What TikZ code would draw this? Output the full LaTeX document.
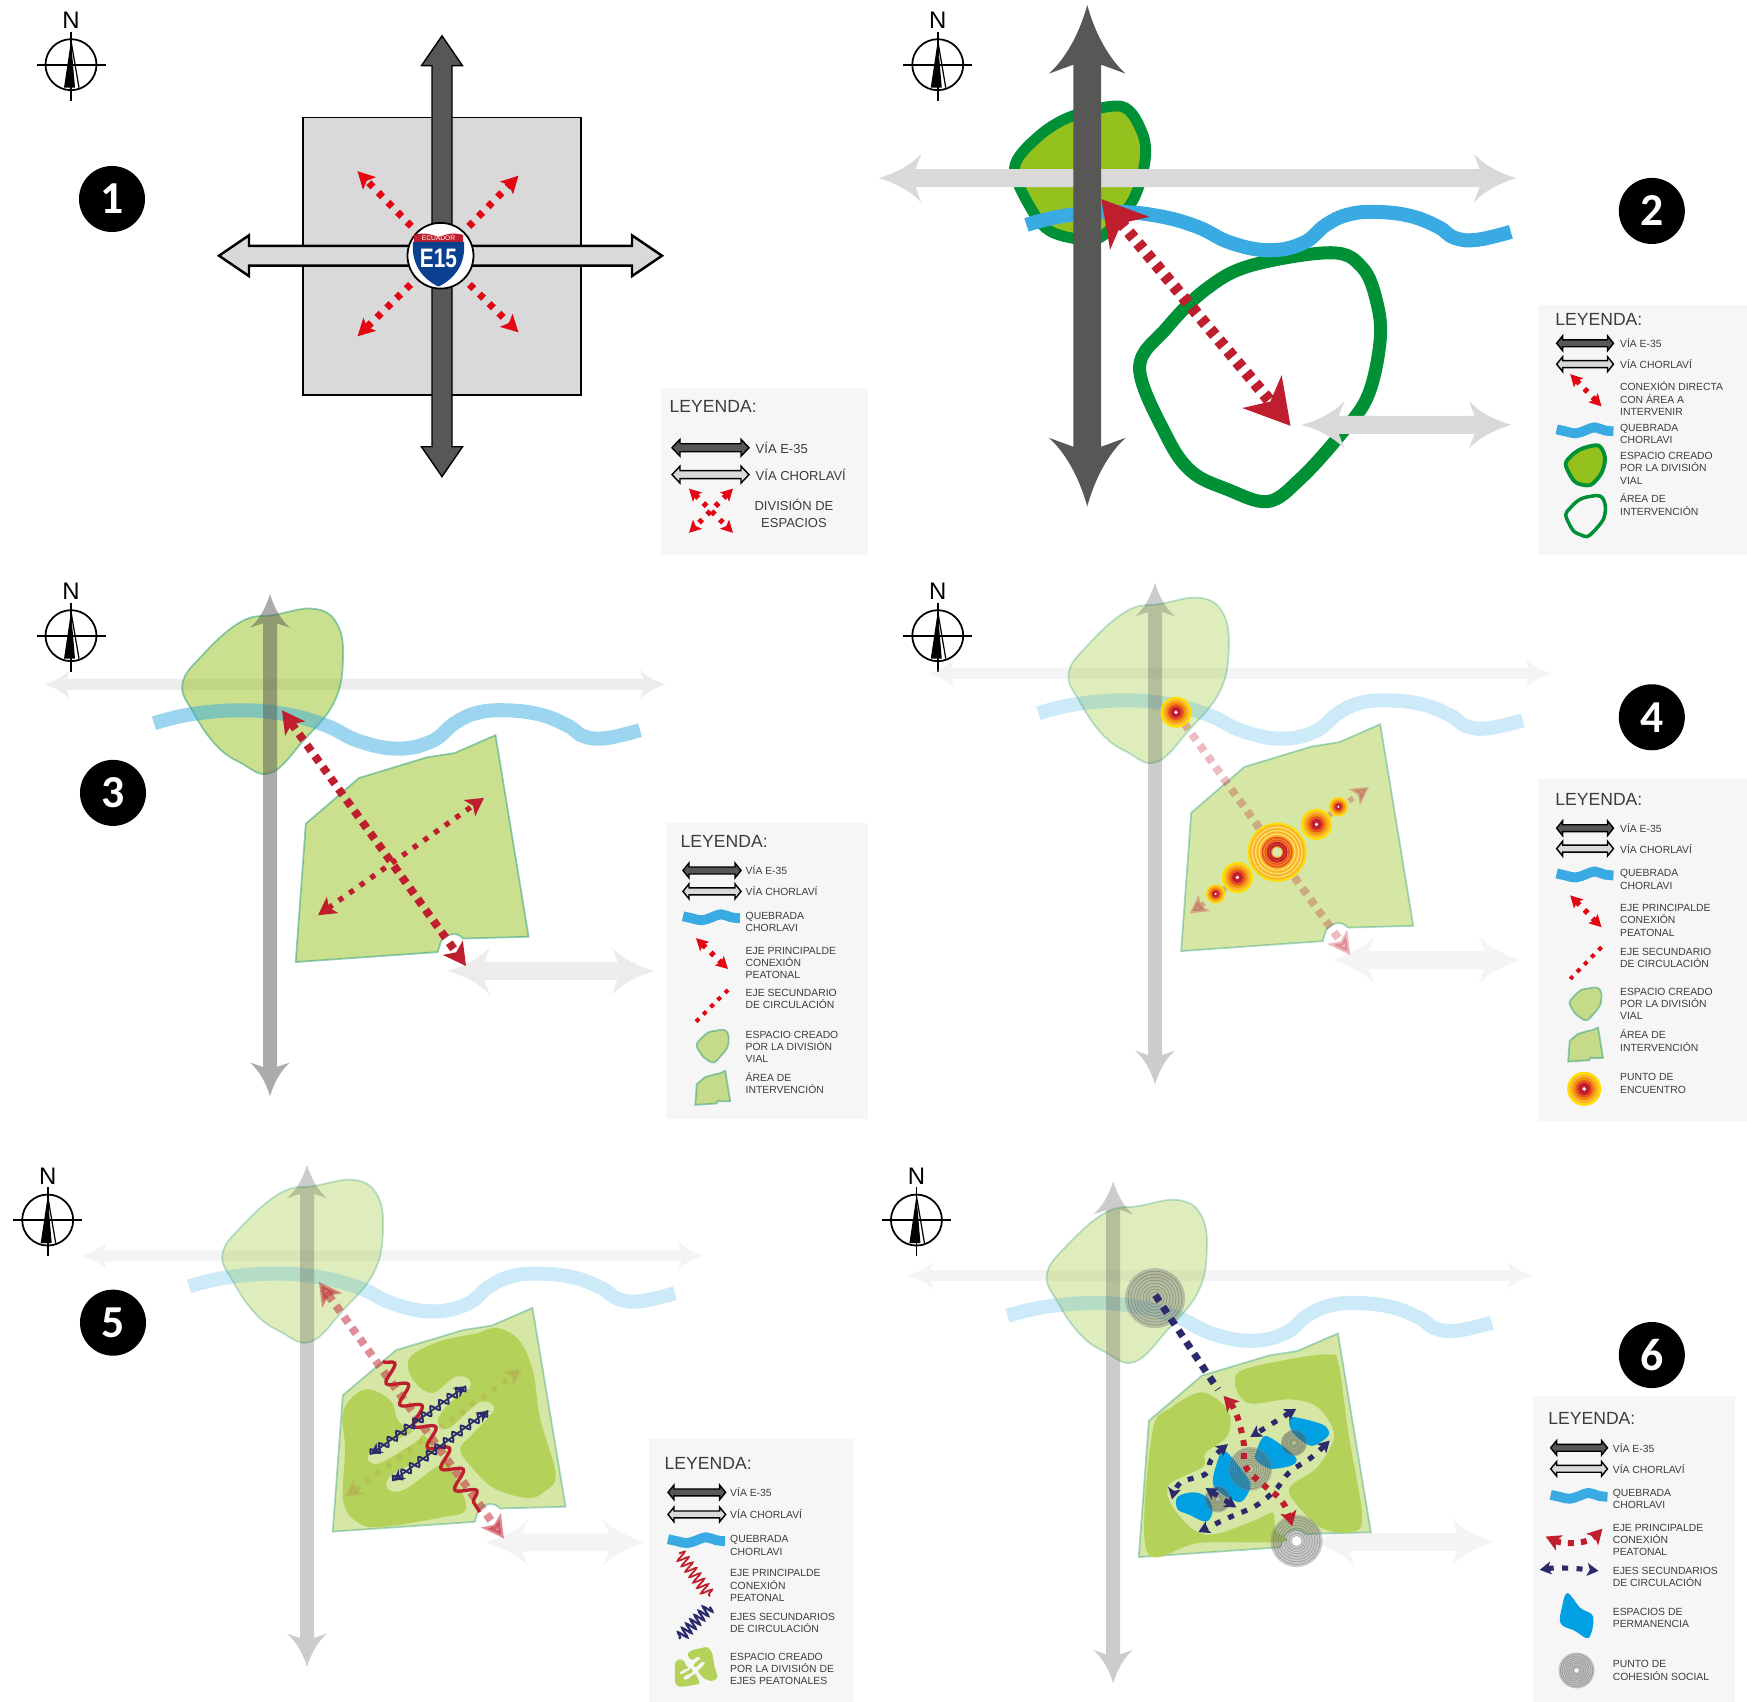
\documentclass[tikz,border=0pt]{standalone}
\usepackage{fontspec}
\setmainfont{Liberation Sans}
\newfontfamily\badgefont{Carlito}
\newfontfamily\shieldfont{Liberation Sans}[FakeStretch=.78]
\usetikzlibrary{arrows.meta,decorations.pathmorphing}
\definecolor{cDark}{HTML}{575756}
\definecolor{cLight}{HTML}{D9D9D9}
\definecolor{cPanel}{HTML}{F6F6F6}
\definecolor{cText}{HTML}{3C3C3B}
\definecolor{cRed}{HTML}{E30613}
\definecolor{cCrim}{HTML}{BE1E2D}
\definecolor{cRiver}{HTML}{39ABE2}
\definecolor{cLeaf}{HTML}{95C11F}
\definecolor{cDeep}{HTML}{009036}
\definecolor{cEdge}{HTML}{2A9D78}
\definecolor{cMoss}{HTML}{B4D25A}
\definecolor{cPale}{HTML}{D9E8AF}
\definecolor{cNavy}{HTML}{2B2A6B}
\definecolor{cPool}{HTML}{00A0E3}
\definecolor{cShield}{HTML}{0B3F8F}
\definecolor{cSun}{HTML}{FFDD00}
\definecolor{cAmber}{HTML}{F9B233}
\definecolor{cOrange}{HTML}{F39200}
\definecolor{cEmber}{HTML}{E8512A}
\tikzset{
  rowone/.style={yscale=.995},
  rowtwo/.style={shift={(0,2.85)},yscale=.995},
  rowthree/.style={shift={(0,21.85)},yscale=.981},
  coltwo/.style={shift={(2.96,0)},xscale=.9966},
  legbox/.style={fill=cPanel},
  legtitle/.style={anchor=west,inner sep=0pt,text=cText,font=\fontsize{5}{6}\selectfont},
  legtxt/.style={anchor=west,align=left,inner sep=0pt,text=cText,font=\fontsize{2.95}{3.47}\selectfont},
  legbig/.style={legtxt,font=\fontsize{3.7}{4.8}\selectfont},
  badge/.style={circle,fill=black,text=white,inner sep=0pt,minimum size=.66cm,
                font=\badgefont\bfseries\fontsize{13}{13}\selectfont},
  darkroad/.style={fill=cDark},
  lightroad/.style={fill=cLight},
  darkkey/.style={fill=cDark,draw=black,line width=.4pt},
  lightkey/.style={fill=cLight,draw=black,line width=.4pt},
  river/.style={draw=cRiver,line width=4pt},
  riverkey/.style={draw=cRiver,line width=2.8pt},
  leaf/.style={fill=cLeaf,draw=cEdge,line width=.5pt},
  ringline/.style={draw=cDeep,line width=3.7pt},
  redspike/.style={draw=cRed,line width=2pt,dash pattern=on 1.7pt off 2.2pt,
    -{Stealth[length=4.8pt,width=5pt,inset=1pt]}},
  redwide/.style={draw=cCrim,line width=3.4pt,dash pattern=on 2.1pt off 1.9pt,
    {Stealth[length=12.5pt,width=14.2pt,inset=3.5pt]}-{Stealth[length=12.5pt,width=14.2pt,inset=3.5pt]}},
  redmid/.style={draw=cCrim,line width=2.3pt,dash pattern=on 2.1pt off 1.75pt,
    {Stealth[length=6.3pt,width=6.8pt,inset=1.5pt]}-{Stealth[length=6.3pt,width=6.8pt,inset=1.5pt]}},
  redfine/.style={draw=cCrim,line width=1.5pt,dash pattern=on 1.5pt off 2.2pt,
    {Stealth[length=5pt,width=5.5pt,inset=1.2pt]}-{Stealth[length=5pt,width=5.5pt,inset=1.2pt]}},
  redkey/.style={draw=cRed,line width=1.5pt,dash pattern=on 1.3pt off 2pt,
    {Stealth[length=3.4pt,width=3.6pt,inset=.7pt]}-{Stealth[length=3.4pt,width=3.6pt,inset=.7pt]}},
  redkeyfine/.style={draw=cRed,line width=1.15pt,dash pattern=on 1.2pt off 1.7pt},
  redcurve/.style={draw=cCrim,line width=1.7pt,dash pattern=on 1.7pt off 2pt,
    {Stealth[length=4.2pt,width=4.6pt,inset=1pt]}-{Stealth[length=4.2pt,width=4.6pt,inset=1pt]}},
  navymain/.style={draw=cNavy,line width=2pt,dash pattern=on 2.1pt off 1.9pt},
  navyfine/.style={draw=cNavy,line width=1.45pt,dash pattern=on 1.7pt off 2.4pt,
    {Stealth[length=3.2pt,width=3.6pt,inset=.7pt]}-{Stealth[length=3.2pt,width=3.6pt,inset=.7pt]}},
  redwave/.style={draw=cCrim,line width=.95pt,decorate,
    decoration={snake,amplitude=2.6pt,segment length=7.2pt}},
  redwavekey/.style={draw=cCrim,line width=.5pt,decorate,
    decoration={snake,amplitude=1.6pt,segment length=1.9pt}},
  navywave/.style={draw=cNavy,line width=.55pt,decorate,
    decoration={snake,amplitude=1.2pt,segment length=3pt}},
  navywavekey/.style={draw=cNavy,line width=.6pt,decorate,
    decoration={snake,amplitude=1.5pt,segment length=1.7pt}},
  navystem/.style={draw=cNavy,line width=.5pt,
    {Stealth[length=3.4pt,width=3.4pt]}-{Stealth[length=3.4pt,width=3.4pt]}},
  northmark/.pic={
    \draw[line width=.5pt] (0,0) circle (25.5);
    \draw[line width=.65pt] (-34.5,0) -- (34.5,0);
    \draw[line width=.5pt] (0,-33) -- (0,36);
    \fill (0,-24) -- (-7,23) -- (4,23) -- cycle;
    \draw[line width=.35pt] (0,-24) -- (8,23);
    \node[inner sep=0pt,font=\fontsize{6.8}{7}\selectfont] (-N) at (0,-44) {N};
  },
  meetpt/.pic={
    \fill[cSun] (0,0) circle (15.5);
    \fill[cAmber] (0,0) circle (13);
    \fill[cOrange] (0,0) circle (10.5);
    \fill[cEmber] (0,0) circle (8);
    \fill[cCrim] (0,0) circle (5.5);
    \fill[white] (0,0) circle (1.8);
  },
  bigmeet/.pic={
    \fill[cSun] (0,0) circle (29.5);
    \fill[cAmber] (0,0) circle (27.5);
    \draw[cSun!60!white,line width=.3pt] (0,0) circle (25) circle (21.5) circle (18);
    \fill[cOrange,opacity=.6] (0,0) circle (16);
    \draw[cEmber,line width=.45pt] (0,0) circle (14.5) circle (12);
    \draw[cCrim,line width=.55pt] (0,0) circle (9.5) circle (7);
    \fill[cPale] (0,0) circle (5);
  },
  socialpt/.pic={
    \fill[gray,opacity=.42] (0,0) circle (30);
    \draw[black,opacity=.22,line width=.2pt] (0,0) circle (27) circle (24) circle (21) circle (18)
      circle (15) circle (12) circle (9) circle (6);
  },
}
\newcommand{\road}[7]{\fill[#1,shift={(#2)},rotate=#3]
  (0,0) .. controls ({.45*#6},{.22*#7}) and ({.8*#6},{.6*#7}) .. (#6,#7) -- ({.87*#6},#5)
  -- ({#4-.87*#6},#5) -- ({#4-#6},#7) .. controls ({#4-.8*#6},{.6*#7}) and ({#4-.45*#6},{.22*#7}) .. (#4,0)
  .. controls ({#4-.45*#6},{-.22*#7}) and ({#4-.8*#6},{-.6*#7}) .. ({#4-#6},-#7) -- ({#4-.87*#6},-#5)
  -- ({.87*#6},-#5) -- (#6,-#7) .. controls ({.8*#6},{-.6*#7}) and ({.45*#6},{-.22*#7}) .. (0,0) -- cycle;}
\newcommand{\roadkey}[7]{\draw[#1,shift={(#2)},rotate=#3]
  (0,0) -- (#6,#7) -- (#6,#5) -- ({#4-#6},#5) -- ({#4-#6},#7) -- (#4,0) -- ({#4-#6},-#7)
  -- ({#4-#6},-#5) -- (#6,-#5) -- (#6,-#7) -- cycle;}
\newcommand{\blobpath}{plot[smooth cycle,tension=.7] coordinates {(314,609) (337,624) (343,660) (334,703)
  (303,742) (270.5,774) (241,764) (216,746) (193.6,713.6) (182.4,685) (202,656) (241,622) (275,615)}}
\newcommand{\sitepath}{(495.5,736) -- (528.6,938.6) -- (463,940.4) .. controls (458,934) and (448,934) .. (441,943)
  -- (437.7,954) -- (295.7,964) -- (305.8,825) -- (359,779) -- (426.5,758.4) -- (454.5,754) -- cycle}
\newcommand{\riverpath}{plot[smooth,tension=.7] coordinates {(154,724) (191,715) (241,711) (286,715) (325.5,726)
  (359,742) (398,749.5) (432,742) (454.5,724) (477,713.6) (505,711) (539,715) (567,726) (583.6,737) (606,739) (640,731)}}
\newcommand{\leafpath}{plot[smooth cycle,tension=.55] coordinates {(1122.5,107) (1143,133) (1146,161.5) (1134,201)
  (1106,235) (1086,241) (1052,233) (1033,212) (1015,169) (1038,138) (1072,117)}}
\newcommand{\ringpath}{plot[smooth cycle,tension=.6] coordinates {(1333,254) (1364,269) (1378,301.5) (1382,341)
  (1369.5,398) (1341,438) (1302,481) (1269.5,504) (1229,492) (1192.7,474) (1167.4,438) (1140.5,370)
  (1167.4,330) (1206.7,291) (1251.6,267)}}
\newcommand{\riverkeypath}{plot[smooth,tension=.7] coordinates {(0,-1) (9,1) (19,3) (29,0) (38,-3) (48,0) (57,1)}}
\newcommand{\mossone}{plot[smooth cycle,tension=.6] coordinates {(885,505) (925,540) (950,630) (962,760) (990,920)
  (970,970) (940,988) (880,960) (840,900) (820,850) (840,810) (878,745) (875,720) (850,720) (800,790) (780,770)
  (800,720) (835,680) (835,650) (810,645) (770,690) (735,650) (730,590) (780,545) (850,520)}}
\newcommand{\mosstwo}{plot[smooth cycle,tension=.6] coordinates {(650,680) (695,710) (710,770) (735,800) (690,830)
  (655,870) (675,890) (740,830) (755,810) (770,860) (700,920) (690,960) (720,965) (790,890) (810,930) (830,1020)
  (780,1045) (680,1070) (640,1060) (612,1000) (615,850) (612,740)}}
\newcommand{\sixmossa}{plot[smooth cycle,tension=.55] coordinates {(660,630) (730,600) (820,580) (838,610) (855,800)
  (880,1040) (860,1085) (810,1075) (770,1020) (750,960) (800,900) (830,810) (800,730) (750,708) (680,720) (655,680)}}
\newcommand{\sixmossb}{plot[smooth cycle,tension=.55] coordinates {(595,688) (640,740) (640,810) (600,860) (595,900)
  (535,950) (540,1010) (580,1080) (620,1090) (690,1050) (720,1030) (725,1080) (740,1112) (590,1115) (495,1140)
  (505,800) (540,730)}}
\newcommand{\poolkey}{plot[smooth cycle,tension=.6] coordinates {(1247,1258) (1270,1300) (1293,1325) (1285,1385)
  (1260,1365) (1235,1345) (1237,1300)}}
\begin{document}
\begin{tikzpicture}[x=.01cm,y=-.01cm]
  \useasboundingbox (0,0) rectangle (1747,1702);
  % 1
  \begin{scope}[rowone]
  \pic (np1) at (71,65) {northmark};
  \node[badge] (b1) at (112,200) {1};
  \draw[fill=cLight,line width=.5pt] (303,118) rectangle (581,397);
  \roadkey{lightkey,line width=.7pt}{219,257}{0}{443}{10}{30}{20.5}
  \roadkey{darkkey}{442,36}{-90}{443}{10}{30}{20.5}
  \draw[redspike] (440,257) -- (357.5,172);
  \draw[redspike] (440,257) -- (518.5,176.6);
  \draw[redspike] (440,257) -- (357.5,338);
  \draw[redspike] (440,257) -- (518.5,334);
  \draw[fill=white,line width=.5pt] (440.5,257) circle (33);
  \fill[cCrim] (414,243) -- (414,236) .. controls (425,233) and (432,236) .. (438.5,238)
    .. controls (445,236) and (452,233) .. (463,236) -- (463,243) -- cycle;
  \fill[cShield] (413,243) -- (464,243) .. controls (466,265) and (455,280) .. (438.5,288)
    .. controls (422,280) and (411,265) .. (413,243) -- cycle;
  \node[inner sep=0pt,text=white,font=\fontsize{1.9}{2}\selectfont] (ecu) at (438.5,239.5) {ECUADOR};
  \node[inner sep=0pt,text=white,font=\shieldfont\bfseries\fontsize{7.6}{8}\selectfont] (e15) at (438.5,259.5) {E15};
  \fill[legbox] (661,389.5) rectangle (868,558);
  \node[legtitle] (t1) at (669,408) {LEYENDA:};
  \roadkey{darkkey}{672,450}{0}{77}{4}{8}{8.5}
  \node[legbig] (t1a) at (755,450) {VÍA E-35};
  \roadkey{lightkey}{672,477}{0}{77}{4}{8}{8.5}
  \node[legbig] (t1b) at (755,477) {VÍA CHORLAVÍ};
  \draw[redkey] (689,491) -- (733,535.5);
  \draw[redkey] (733,491) -- (689,535.5);
  \node[legbig,align=center,anchor=center] (t1c) at (794,516) {DIVISIÓN DE\\ESPACIOS};
  \end{scope}
  % 2
  \begin{scope}[rowone,coltwo]
  \pic (np2) at (938,65) {northmark};
  \node[badge] (b2) at (1654.5,212) {2};
  \draw[ringline] \ringpath;
  \draw[ringline,fill=cLeaf,line width=3.1pt] \leafpath;
  \draw[river,shift={(873,-498)}] \riverpath;
  \road{lightroad}{878.4,179}{0}{640.6}{9}{43}{24.5}
  \road{lightroad}{1303,427}{0}{211}{9}{43}{24}
  \road{darkroad}{1088,5}{-90}{504}{14}{69}{38.5}
  \draw[redwide] (1102,200) -- (1292,428);
  \fill[legbox] (1540.6,307) rectangle (1750,558);
  \node[legtitle] (t2) at (1557,321) {LEYENDA:};
  \roadkey{darkkey}{1559,345}{0}{57}{3.5}{6}{7.5}
  \node[legtxt] (t2a) at (1622,345) {VÍA E-35};
  \roadkey{lightkey}{1559,366}{0}{57}{3.5}{6}{7.5}
  \node[legtxt] (t2b) at (1622,366) {VÍA CHORLAVÍ};
  \draw[redkey] (1572.6,376) -- (1604,408.5);
  \node[legtxt] (t2c) at (1622,400.6) {CONEXIÓN DIRECTA\\CON ÁREA A\\INTERVENIR};
  \draw[riverkey,shift={(1559,432.5)}] \riverkeypath;
  \node[legtxt] (t2d) at (1622,436) {QUEBRADA\\CHORLAVI};
  \draw[ringline,fill=cLeaf,line width=1.1pt,shift={(1588,467.7)},scale=.3,shift={(-1081.5,-174)}] \leafpath;
  \node[legtxt] (t2e) at (1622,470.6) {ESPACIO CREADO\\POR LA DIVISIÓN\\VIAL};
  \draw[ringline,line width=1pt,shift={(1588,518.7)},scale=.165,shift={(-1261,-379)}] \ringpath;
  \node[legtxt] (t2f) at (1622,507) {ÁREA DE\\INTERVENCIÓN};
  \end{scope}
  % 3
  \begin{scope}[rowtwo]
  \pic (np3) at (71,636) {northmark};
  \node[badge] (b3) at (113,794) {3};
  \road{lightroad,opacity=.5}{44,685}{0}{622}{5.5}{26}{15}
  \road{lightroad,opacity=.5}{447,973}{0}{208}{9}{43}{24}
  \draw[leaf,opacity=.5] \blobpath;
  \draw[leaf,opacity=.5] \sitepath;
  \draw[river,opacity=.5] \riverpath;
  \road{darkroad,opacity=.5}{270,594}{-90}{505}{7}{34}{20}
  \draw[redmid] (282,711) -- (466,968);
  \draw[redfine] (318,917) -- (484,799);
  \fill[legbox] (666,824) rectangle (868,1122);
  \node[legtitle] (t3) at (680,843) {LEYENDA:};
  \roadkey{darkkey}{683,872}{0}{58}{3.5}{6}{7.5}
  \node[legtxt] (t3a) at (745,872) {VÍA E-35};
  \roadkey{lightkey}{683,893}{0}{58}{3.5}{6}{7.5}
  \node[legtxt] (t3b) at (745,893) {VÍA CHORLAVÍ};
  \draw[riverkey,shift={(683,919)}] \riverkeypath;
  \node[legtxt] (t3c) at (745,924) {QUEBRADA\\CHORLAVI};
  \draw[redkey] (696,940) -- (728,971);
  \node[legtxt] (t3d) at (745,965) {EJE PRINCIPALDE\\CONEXIÓN\\PEATONAL};
  \draw[redkeyfine] (728,992) -- (696,1024);
  \node[legtxt] (t3e) at (745,1001) {EJE SECUNDARIO\\DE CIRCULACIÓN};
  \draw[leaf,opacity=.5,shift={(712.7,1048.5)},scale=.2,shift={(-263,-691.5)}] \blobpath;
  \node[legtxt] (t3f) at (745,1049) {ESPACIO CREADO\\POR LA DIVISIÓN\\VIAL};
  \draw[leaf,opacity=.5,shift={(712.7,1090.5)},scale=.15,shift={(-412,-850)}] \sitepath;
  \node[legtxt] (t3g) at (745,1086) {ÁREA DE\\INTERVENCIÓN};
  \end{scope}
  % 4
  \begin{scope}[rowtwo,coltwo]
  \pic (np4) at (938,636) {northmark};
  \node[badge] (b4) at (1654.5,718) {4};
  \road{lightroad,opacity=.3}{929,674}{0}{624.5}{5.5}{26}{15}
  \road{lightroad,opacity=.3}{1333,962}{0}{191}{9}{43}{24}
  \draw[leaf,opacity=.3,shift={(887,-11)}] \blobpath;
  \draw[leaf,opacity=.4,shift={(886.5,-11)}] \sitepath;
  \draw[river,opacity=.25,shift={(885,-10)}] \riverpath;
  \road{darkroad,opacity=.3}{1156,582.6}{-90}{504.5}{7}{34}{20}
  \draw[redmid,opacity=.3,shift={(886,-11)}] (282,711) -- (466,968);
  \draw[redfine,opacity=.3] (1191,915) -- (1370.6,788);
  \pic (m4a) at (1177,713) {meetpt};
  \pic (m4b) at (1278.5,853.6) {bigmeet};
  \pic (m4c) at (1318,825.6) {meetpt};
  \pic[scale=.62] (m4d) at (1340,808) {meetpt};
  \pic (m4e) at (1238.7,879) {meetpt};
  \pic[scale=.62] (m4f) at (1216.8,895.5) {meetpt};
  \fill[legbox] (1540.6,780) rectangle (1750,1124);
  \node[legtitle] (t4) at (1557,801) {LEYENDA:};
  \roadkey{darkkey}{1559,829.5}{0}{57}{3.5}{6}{7.5}
  \node[legtxt] (t4a) at (1622,829.5) {VÍA E-35};
  \roadkey{lightkey}{1559,850}{0}{57}{3.5}{6}{7.5}
  \node[legtxt] (t4b) at (1622,850) {VÍA CHORLAVÍ};
  \draw[riverkey,shift={(1559,876)}] \riverkeypath;
  \node[legtxt] (t4c) at (1622,881) {QUEBRADA\\CHORLAVI};
  \draw[redkey] (1572.6,897) -- (1604,929);
  \node[legtxt] (t4d) at (1622,922) {EJE PRINCIPALDE\\CONEXIÓN\\PEATONAL};
  \draw[redkeyfine] (1604,949) -- (1572.6,981);
  \node[legtxt] (t4e) at (1622,959.5) {EJE SECUNDARIO\\DE CIRCULACIÓN};
  \draw[leaf,opacity=.5,shift={(1588,1006)},scale=.2,shift={(-263,-691.5)}] \blobpath;
  \node[legtxt] (t4f) at (1622,1006) {ESPACIO CREADO\\POR LA DIVISIÓN\\VIAL};
  \draw[leaf,opacity=.5,shift={(1588,1047)},scale=.15,shift={(-412,-850)}] \sitepath;
  \node[legtxt] (t4g) at (1622,1043) {ÁREA DE\\INTERVENCIÓN};
  \pic[scale=1.1] (m4k) at (1586.6,1091.5) {meetpt};
  \node[legtxt] (t4h) at (1622,1086) {PUNTO DE\\ENCUENTRO};
  \end{scope}
  % 5
  \begin{scope}[rowthree]
  \pic (np5) at (47.7,1221.4) {northmark};
  \node[badge] (b5) at (113,1326) {5};
  \road{lightroad,opacity=.3}{81.4,1257.7}{0}{622.6}{5.5}{26}{15}
  \road{lightroad,opacity=.3}{485,1550}{0}{161}{9}{43}{24}
  \draw[leaf,opacity=.3,shift={(40,571.5)}] \blobpath;
  \draw[leaf,opacity=.4,shift={(37,575)}] \sitepath;
  \draw[river,opacity=.25,shift={(35,565)}] \riverpath;
  \road{darkroad,opacity=.3}{307,1165}{-90}{512}{7}{34}{20}
  \begin{scope}[shift={(0,1150)},xscale=.5612,yscale=.359]
    \fill[cMoss] \mossone;
    \fill[cMoss] \mosstwo;
  \end{scope}
  \draw[redmid,opacity=.5] (319,1284.6) -- (504,1546);
  \draw[redfine,opacity=.09] (345,1503.5) -- (522,1373);
  \begin{scope}[shift={(0,1150)},xscale=.5612,yscale=.359]
    \draw[redwave] (682,600) -- (855,1028);
    \draw[navystem] (660,865) -- (830,670);
    \draw[navywave] (660,865) -- (830,670);
    \draw[navystem] (700,940) -- (870,740);
    \draw[navywave] (700,940) -- (870,740);
  \end{scope}
  \fill[legbox] (649,1445) rectangle (854,1716);
  \node[legtitle] (t5) at (664,1469.5) {LEYENDA:};
  \roadkey{darkkey}{668,1499}{0}{57.6}{3.5}{6}{7.5}
  \node[legtxt] (t5a) at (729.5,1499) {VÍA E-35};
  \roadkey{lightkey}{668,1521.5}{0}{57.6}{3.5}{6}{7.5}
  \node[legtxt] (t5b) at (729.5,1521.5) {VÍA CHORLAVÍ};
  \draw[riverkey,shift={(668,1547.7)}] \riverkeypath;
  \node[legtxt] (t5c) at (729.5,1553) {QUEBRADA\\CHORLAVI};
  \draw[redwavekey] (679,1561) -- (710,1605);
  \node[legtxt] (t5d) at (729.5,1594) {EJE PRINCIPALDE\\CONEXIÓN\\PEATONAL};
  \draw[navywavekey] (710,1615.5) -- (679,1648);
  \node[legtxt] (t5e) at (729.5,1631.7) {EJES SECUNDARIOS\\DE CIRCULACIÓN};
  \fill[cMoss,shift={(696,1677)},scale=.2,xscale=.5612,yscale=.359,shift={(-800,-790)}] \mossone;
  \fill[cMoss,shift={(696,1677)},scale=.2,xscale=.5612,yscale=.359,shift={(-800,-790)}] \mosstwo;
  \node[legtxt] (t5f) at (729.5,1679) {ESPACIO CREADO\\POR LA DIVISIÓN DE\\EJES PEATONALES};
  \end{scope}
  % 6
  \begin{scope}[rowthree,coltwo]
  \pic (np6) at (916.6,1221.4) {northmark};
  \node[badge] (b6) at (1654.5,1359) {6};
  \road{lightroad,opacity=.3}{908,1278}{0}{627}{5.5}{26}{15}
  \road{lightroad,opacity=.3}{1313,1549.5}{0}{184}{9}{43}{24}
  \draw[leaf,opacity=.3,shift={(865,592)}] \blobpath;
  \draw[leaf,opacity=.4,shift={(844,601)}] \sitepath;
  \draw[river,opacity=.25,shift={(854,595)}] \riverpath;
  \road{darkroad,opacity=.3}{1114,1181.6}{-90}{512}{7}{34}{20}
  \begin{scope}[shift={(870,1150)},xscale=.5612,yscale=.359]
    \fill[cMoss] \sixmossa;
    \fill[cMoss] \sixmossb;
    \fill[cPool] plot[smooth cycle,tension=.6] coordinates {(550,985) (580,972) (605,990) (612,1030) (600,1055) (570,1035) (550,1020)};
    \fill[cPool] plot[smooth cycle,tension=.5] coordinates {(635,855) (675,930) (680,960) (660,1000) (615,955) (620,890)};
    \fill[cPool] plot[smooth cycle,tension=.5] coordinates {(708,812) (760,870) (755,895) (715,905) (690,880) (690,860)};
    \fill[cPool] plot[smooth cycle,tension=.5] coordinates {(755,758) (810,780) (820,810) (790,840) (760,810) (750,780)};
  \end{scope}
  \pic (s6a) at (1156,1301) {socialpt};
  \fill[white,opacity=.8] (1156,1301) circle (2);
  \pic[scale=.87] (s6b) at (1298,1548.5) {socialpt};
  \fill[white] (1298,1548.5) circle (5);
  \pic[scale=.73] (s6c) at (1251.6,1475) {socialpt};
  \pic[scale=.44] (s6d) at (1219,1506) {socialpt};
  \pic[scale=.44] (s6e) at (1295.4,1448.6) {socialpt};
  \begin{scope}[shift={(870,1150)},xscale=.5612,yscale=.359]
    \draw[navymain] (510,412) -- (622,680);
    \draw[navyfine] (762,735) -- (680,815);
    \draw[navyfine] plot[smooth,tension=.6] coordinates {(640,835) (610,880) (600,920) (555,945) (540,992)};
    \draw[navyfine] plot[smooth,tension=.6] coordinates {(822,825) (790,872) (750,915) (725,965) (690,1010) (640,1045) (587,1085)};
    \draw[navyfine] (600,960) -- (655,1015);
    \draw[redcurve] plot[smooth,tension=.6] coordinates {(632,698) (655,750) (668,830) (672,900) (710,960) (730,985) (745,1020) (755,1068)};
  \end{scope}
  \fill[legbox] (1535,1401) rectangle (1738,1716);
  \node[legtitle] (t6) at (1550,1424) {LEYENDA:};
  \roadkey{darkkey}{1553,1453.6}{0}{57}{3.5}{6}{7.5}
  \node[legtxt] (t6a) at (1614.7,1453.6) {VÍA E-35};
  \roadkey{lightkey}{1553,1475}{0}{57}{3.5}{6}{7.5}
  \node[legtxt] (t6b) at (1614.7,1475) {VÍA CHORLAVÍ};
  \draw[riverkey,shift={(1553,1502.5)}] \riverkeypath;
  \node[legtxt] (t6c) at (1614.7,1506) {QUEBRADA\\CHORLAVI};
  \draw[redcurve] (1548,1544) .. controls (1565,1552) and (1590,1552) .. (1605,1536);
  \node[legtxt] (t6d) at (1614.7,1547.7) {EJE PRINCIPALDE\\CONEXIÓN\\PEATONAL};
  \draw[navyfine] (1542,1578) .. controls (1560,1575) and (1585,1577) .. (1601,1579);
  \node[legtxt] (t6e) at (1614.7,1585) {EJES SECUNDARIOS\\DE CIRCULACIÓN};
  \fill[cPool,shift={(870,1150)},xscale=.5612,yscale=.359] \poolkey;
  \node[legtxt] (t6f) at (1614.7,1627) {ESPACIOS DE\\PERMANENCIA};
  \pic[scale=.6] (s6k) at (1579,1680.5) {socialpt};
  \fill[white] (1579,1680.5) circle (2);
  \node[legtxt] (t6g) at (1614.7,1680.5) {PUNTO DE\\COHESIÓN SOCIAL};
  \end{scope}
\end{tikzpicture}
\end{document}
